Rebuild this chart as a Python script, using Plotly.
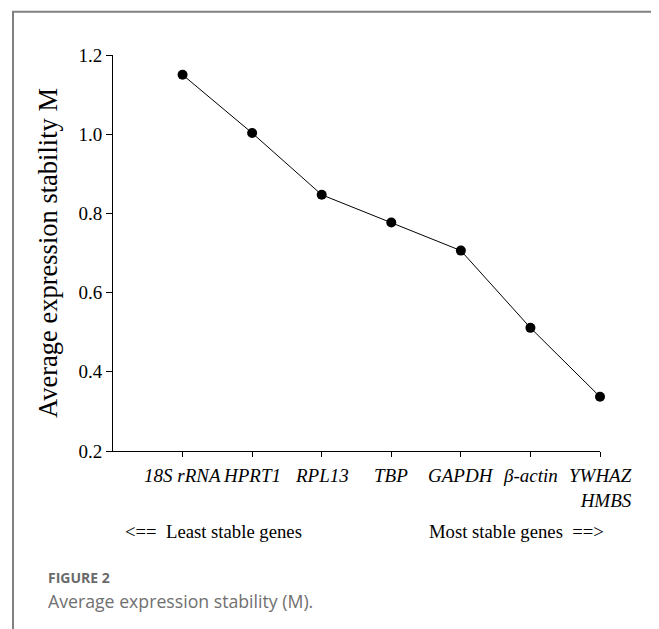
import plotly.graph_objects as go

genes = ["18S rRNA", "HPRT1", "RPL13", "TBP", "GAPDH", "β-actin", "YWHAZ<br>HMBS"]
m_values = [1.15, 1.003, 0.847, 0.777, 0.706, 0.511, 0.337]
y_ticks = [0.2, 0.4, 0.6, 0.8, 1.0, 1.2]

SERIF = "Liberation Serif, Times New Roman, serif"
SANS = "Open Sans, Noto Sans, sans-serif"

fig = go.Figure()
fig.add_trace(go.Scatter(
    x=genes, y=m_values, mode="lines+markers",
    line=dict(color="black", width=1),
    marker=dict(color="black", size=10),
    cliponaxis=False,
    showlegend=False, hoverinfo="skip",
))

annotations = []
for g in genes:
    annotations.append(dict(
        x=g, xref="x", y=0, yref="paper", yanchor="top", xanchor="center",
        yshift=-12, text=g, align="right", showarrow=False,
        font=dict(family=SERIF, size=19, color="black", style="italic"),
    ))

annotations += [
    dict(x=-0.1335, y=0.5, xref="paper", yref="paper", text="Average expression stability M",
         textangle=-90, showarrow=False, xanchor="center", yanchor="middle",
         font=dict(family=SERIF, size=26.5, color="black")),
    dict(x=0.02, y=-0.203, xref="paper", yref="paper", text="<==  Least stable genes",
         showarrow=False, xanchor="left", yanchor="middle",
         font=dict(family=SERIF, size=18.7, color="black")),
    dict(x=1.0123, y=-0.203, xref="paper", yref="paper", text="Most stable genes  ==>",
         showarrow=False, xanchor="right", yanchor="middle",
         font=dict(family=SERIF, size=18.7, color="black")),
    dict(x=-0.137, y=-0.319, xref="paper", yref="paper", text="FIGURE 2",
         showarrow=False, xanchor="left", yanchor="middle",
         font=dict(family=SANS, size=14, color="#6a6a6a", weight="bold")),
    dict(x=-0.137, y=-0.38, xref="paper", yref="paper", text="Average expression stability (M).",
         showarrow=False, xanchor="left", yanchor="middle",
         font=dict(family=SANS, size=17.7, color="#707070")),
]

# page body has an 8px margin, so the figure is offset; compensate in the figure size
fig.update_layout(
    width=651, height=621,
    margin=dict(l=105, r=59, t=47, b=178),
    paper_bgcolor="white", plot_bgcolor="white",
    annotations=annotations,
    shapes=[dict(type="rect", xref="paper", yref="paper",
                 x0=-0.2053, x1=1.115, y0=-0.6, y1=1.1095,
                 line=dict(color="#808080", width=2), fillcolor="rgba(0,0,0,0)")],
    xaxis=dict(type="category", categoryorder="array", categoryarray=genes,
               range=[-1, 6], showline=True, linecolor="black", linewidth=1,
               ticks="outside", ticklen=5, tickcolor="black", tickwidth=1,
               showticklabels=False, showgrid=False, zeroline=False, fixedrange=True),
    yaxis=dict(range=[0.2, 1.2], tickvals=y_ticks, ticktext=[f"{v:.1f}" for v in y_ticks],
               showline=True, linecolor="black", linewidth=1,
               ticks="outside", ticklen=6, tickcolor="black", tickwidth=1,
               tickfont=dict(family=SERIF, size=19, color="black"),
               showgrid=False, zeroline=False, fixedrange=True),
)

fig.write_html("out.html")
